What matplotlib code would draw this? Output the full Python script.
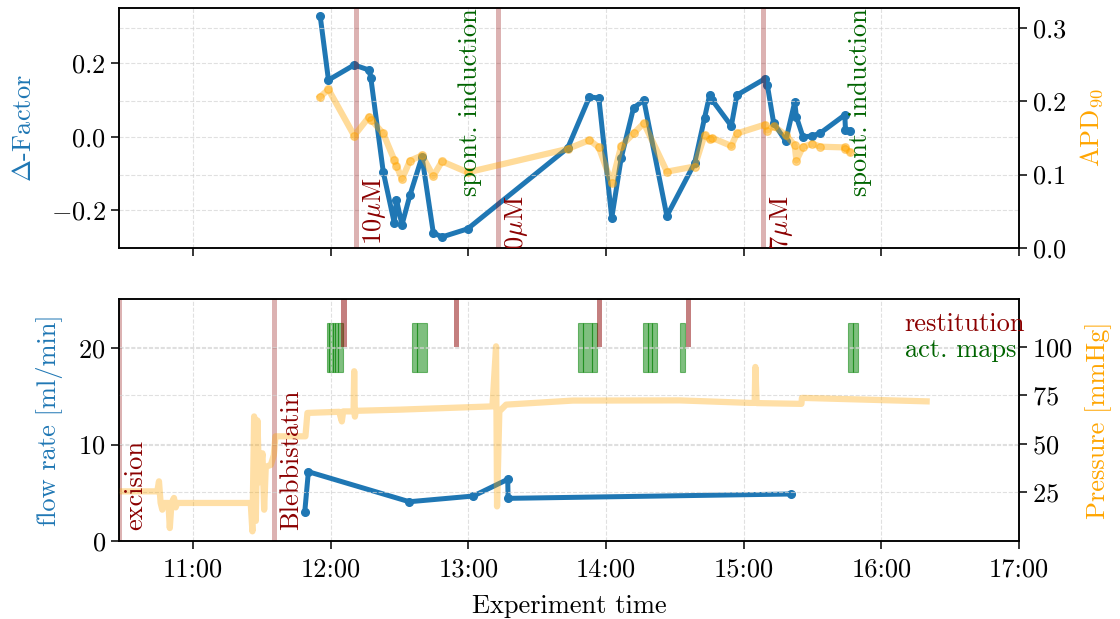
import matplotlib
matplotlib.use("Agg")
import matplotlib.pyplot as plt
import matplotlib.dates as mdates
import matplotlib.transforms as mtransforms
import pandas as pd

plt.rcParams["font.family"] = "serif"
plt.rcParams["font.serif"] = ["cmr10"]
plt.rcParams["mathtext.fontset"] = "cm"
plt.rcParams["axes.formatter.use_mathtext"] = True
plt.rcParams["font.size"] = 19

DAY = "2021-06-15 "

# --- optical mapping measurements -------------------------------------------
meas_time = [
    "11:55:26", "11:59:02", "12:10:15", "12:16:48", "12:17:31", "12:22:55",
    "12:27:43", "12:28:41", "12:31:05", "12:34:34", "12:39:48", "12:44:44",
    "12:48:31", "12:59:42", "13:43:19", "13:52:48", "13:56:53", "14:02:31",
    "14:06:38", "14:12:00", "14:16:30", "14:26:32", "14:38:38", "14:42:58",
    "14:45:10", "14:46:20", "14:54:37", "14:57:04", "15:09:09", "15:10:20",
    "15:13:05", "15:18:19", "15:22:15", "15:22:59", "15:25:52", "15:30:00",
    "15:33:29", "15:44:05", "15:44:23", "15:46:15",
]
delta_factor = [
    0.329, 0.155, 0.196, 0.182, 0.160, -0.095,
    -0.234, -0.171, -0.239, -0.158, -0.054, -0.261,
    -0.272, -0.250, -0.030, 0.109, 0.106, -0.220,
    -0.057, 0.079, 0.100, -0.215, -0.071, 0.052,
    0.114, 0.100, 0.030, 0.114, 0.158, 0.141,
    0.038, -0.011, 0.095, 0.055, 0.000, 0.003,
    0.011, 0.060, 0.019, 0.016,
]
apd90 = [
    0.206, 0.216, 0.153, 0.179, 0.175, 0.156,
    0.120, 0.112, 0.094, 0.119, 0.126, 0.098,
    0.118, 0.103, 0.135, 0.147, 0.137, 0.088,
    0.139, 0.156, 0.170, 0.104, 0.111, 0.154,
    0.148, 0.150, 0.139, 0.156, 0.168, 0.160,
    0.166, 0.154, 0.140, 0.119, 0.138, 0.142,
    0.138, 0.137, 0.135, 0.131,
]

# --- perfusion ---------------------------------------------------------------
flow_time = ["11:48:43", "11:50:17", "12:34:16", "13:02:10", "13:17:10",
             "13:17:20", "15:20:31"]
flow_rate = [3.04, 7.18, 4.07, 4.66, 6.39, 4.42, 4.87]

pressure_time = [
    "10:27:43", "10:44:25", "10:45:10", "10:45:53", "10:46:37", "10:47:22",
    "10:49:16", "10:49:53", "10:50:37", "10:51:42", "10:52:26", "10:53:10",
    "11:25:09", "11:25:53", "11:26:38", "11:27:22", "11:28:05", "11:28:49",
    "11:30:16", "11:31:00", "11:31:43", "11:33:54", "11:35:12", "11:35:56",
    "11:49:00", "11:49:52", "12:03:42", "12:04:52", "12:05:27", "12:09:58",
    "12:10:15", "12:10:33", "12:10:59", "12:30:00", "13:10:30", "13:12:05",
    "13:12:31", "13:13:31", "13:16:28", "13:45:31", "14:32:05", "15:02:38",
    "15:04:48", "15:05:06", "15:05:40", "15:25:11", "15:25:24", "16:19:45",
]
pressure = [
    25.3, 25.3, 30.5, 19.3, 15.8, 19.3,
    19.3, 6.3, 19.3, 21.9, 17.0, 19.3,
    19.3, 4.6, 64.1, 10.0, 62.0, 30.0,
    45.0, 15.8, 38.0, 39.0, 44.0, 53.8,
    53.8, 65.9, 66.5, 61.5, 66.7, 66.7,
    87.5, 64.0, 67.0, 67.6, 69.3, 100.4,
    17.5, 66.7, 70.2, 72.3, 72.4, 71.1,
    71.1, 89.7, 71.0, 70.6, 73.7, 71.9,
]

# --- protocol events -----------------------------------------------------------
excision_time = "10:27:43"
blebbistatin_time = "11:35:18"
drug_time = ["12:10:54", "13:13:05", "15:08:17"]
drug_label = ["10$\\mu$M", "0$\\mu$M", "7$\\mu$M"]
spont_time = ["13:00:40", "15:50:38"]
restitution_start = ["12:04:41", "12:53:53", "13:56:10", "14:34:41"]
restitution_end = ["12:06:54", "12:56:06", "13:58:19", "14:36:54"]
actmap_start = ["11:58:19", "11:59:28", "12:00:58", "12:02:06", "12:03:07",
                "12:35:17", "12:37:37", "13:47:42", "13:49:52", "13:54:00",
                "14:16:05", "14:18:14", "14:19:59", "14:32:17", "15:45:32",
                "15:47:35"]
actmap_end = ["11:59:28", "12:00:58", "12:02:06", "12:03:07", "12:05:28",
              "12:37:37", "12:42:00", "13:49:52", "13:54:00", "13:56:10",
              "14:18:14", "14:19:59", "14:22:08", "14:34:31", "15:47:35",
              "15:49:44"]

x_end = "17:00:00"


def t(values):
    return mdates.date2num(pd.to_datetime([DAY + v for v in values]))


BLUE = "#1f77b4"
ORANGE = "orange"
EVENT = dict(color="darkred", alpha=0.3, lw=3.6)

fig = plt.figure(figsize=(11.2, 6.19), dpi=100)
ax1 = fig.add_axes([0.1062, 0.5994, 0.8036, 0.3877])
ax2 = fig.add_axes([0.1062, 0.1260, 0.8036, 0.3910], sharex=ax1)

grid_kw = dict(color="lightgray", ls="--", lw=0.8, alpha=0.7)

# ---- upper panel: Δ-factor and APD90 ----
ax1.plot(t(meas_time), delta_factor, "-o", color=BLUE, lw=3.6, ms=5.5)
ax1.set_ylim(-0.302, 0.351)
ax1.set_yticks([-0.2, 0.0, 0.2])
ax1.set_ylabel("$\\Delta$-Factor", color=BLUE, labelpad=11)
ax1.grid(True, **grid_kw)

ax1r = ax1.twinx()
for tt in t(drug_time):
    ax1r.axvline(tt, **EVENT)
ax1r.plot(t(meas_time), apd90, "-o", color=ORANGE, alpha=0.4, lw=4.5, ms=5.5)
ax1r.set_ylim(0, 0.327)
ax1r.set_yticks([0.0, 0.1, 0.2, 0.3])
ax1r.set_ylabel("APD$_{90}$", color=ORANGE, labelpad=8)
ax1r.grid(True, axis="y", **grid_kw)

blend1 = mtransforms.blended_transform_factory(ax1r.transData, ax1r.transAxes)
off1 = mtransforms.offset_copy(blend1, fig=fig, x=3.5, y=0, units="points")
for tt, lab, yy in zip(t(drug_time), drug_label, [0.012, -0.01, -0.01]):
    ax1r.text(tt, yy, lab, transform=off1, rotation=90, ha="left",
              va="bottom", color="darkred", clip_on=True)
for tt in t(spont_time):
    ax1r.text(tt, 1.0, "spont. induction", transform=blend1, rotation=90,
              ha="center", va="top", color="darkgreen", clip_on=True)

# ---- lower panel: flow rate and pressure ----
for s, e in zip(t(actmap_start), t(actmap_end)):
    ax2.axvspan(s, e, ymin=0.7, ymax=0.9, facecolor="green",
                edgecolor="green", alpha=0.5, lw=0.8)
for s, e in zip(t(restitution_start), t(restitution_end)):
    ax2.axvspan(s, e, ymin=0.8, ymax=1.0, color="darkred", alpha=0.5, lw=0)
ax2.axvline(t([excision_time])[0], **EVENT)
ax2.axvline(t([blebbistatin_time])[0], **EVENT)

ax2.plot(t(flow_time), flow_rate, "-o", color=BLUE, lw=3.6, ms=5.5)
ax2.set_ylim(0, 25.08)
ax2.set_yticks([0, 10, 20])
ax2.set_ylabel("flow rate [ml/min]", color=BLUE, labelpad=11)
ax2.grid(True, **grid_kw)

ax2r = ax2.twinx()
ax2r.plot(t(pressure_time), pressure, color=ORANGE, alpha=0.35, lw=4.5)
ax2r.set_ylim(-0.4, 124.9)
ax2r.set_yticks([25, 50, 75, 100])
ax2r.set_ylabel("Pressure [mmHg]", color=ORANGE, labelpad=9)
ax2r.grid(True, axis="y", **grid_kw)

blend2 = mtransforms.blended_transform_factory(ax2r.transData, ax2r.transAxes)
off2 = mtransforms.offset_copy(blend2, fig=fig, x=3.5, y=0, units="points")
ax2r.text(t([excision_time])[0], 0.045, "excision", transform=off2,
          rotation=90, ha="left", va="bottom", color="darkred")
ax2r.text(t([blebbistatin_time])[0], 0.045, "Blebbistatin", transform=off2,
          rotation=90, ha="left", va="bottom", color="darkred")
ax2r.text(0.873, 0.895, "restitution", transform=ax2r.transAxes,
          ha="left", va="center", color="darkred", clip_on=False)
ax2r.text(0.873, 0.79, "act. maps", transform=ax2r.transAxes,
          ha="left", va="center", color="darkgreen", clip_on=False)

ax2.set_xlim(t([excision_time])[0], t([x_end])[0])
ax2.xaxis.set_major_locator(mdates.HourLocator())
ax2.xaxis.set_major_formatter(mdates.DateFormatter("%H:%M"))
ax2.set_xlabel("Experiment time", labelpad=9)
plt.setp(ax1.get_xticklabels(), visible=False)

for ax in (ax1, ax1r, ax2, ax2r):
    ax.tick_params(length=6, width=1.1)
    for sp in ax.spines.values():
        sp.set_linewidth(1.1)
ax2.tick_params(axis="x", pad=6)

fig.savefig("out.png", dpi=100)
